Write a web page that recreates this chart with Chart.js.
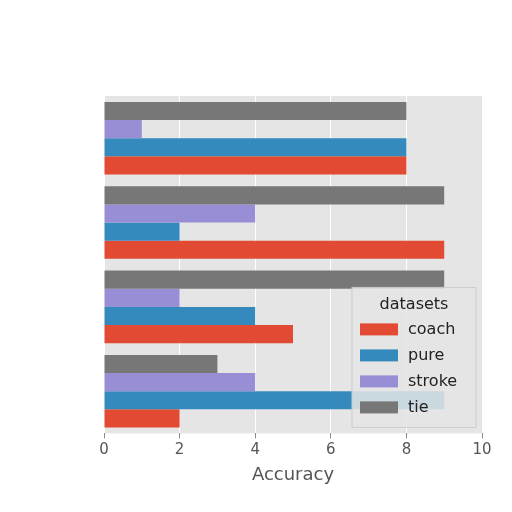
<!DOCTYPE html>
<html><head><meta charset="utf-8">
<script src="https://cdn.jsdelivr.net/npm/chart.js"></script>
<style>html,body{margin:0;background:#fff}#w{width:512px;height:512px}</style>
</head><body><div id="w"><canvas id="c"></canvas></div>
<script>
const categories = ['g3','g2','g1','g0'];
const seriesNames = ['coach','pure','stroke','tie'];
const coach = [8,9,5,2];
const pure = [8,2,4,9];
const stroke = [1,4,2,4];
const tie = [8,9,9,3];
const xTicks = [0,2,4,6,8,10];
const colors = ['#E24A33','#348ABD','#988ED5','#777777'];
const values = [coach,pure,stroke,tie];
const order = [3,2,1,0];

const bgPlugin = {
  id:'bg',
  beforeDraw(ch){const a=ch.chartArea,c=ch.ctx;c.save();c.fillStyle='#E5E5E5';c.fillRect(a.left,a.top,a.right-a.left,a.bottom-a.top);c.restore();}
};
const legendPlugin = {
  id:'lg',
  afterDraw(ch){
    const c=ch.ctx,a=ch.chartArea;
    const w=124,h=140,x=a.right-w-6,y=a.bottom-h-6;
    c.save();
    c.fillStyle='rgba(229,229,229,0.85)';c.strokeStyle='#ccc';
    c.fillRect(x,y,w,h);c.strokeRect(x,y,w,h);
    c.fillStyle='#222';c.font='16px "DejaVu Sans"';c.textBaseline='middle';c.textAlign='center';
    c.fillText('datasets',x+w/2,y+17);
    c.textAlign='left';
    seriesNames.forEach((n,i)=>{
      const yy=y+42+i*26;
      c.fillStyle=colors[i];c.fillRect(x+8,yy-6,38,12);
      c.fillStyle='#222';c.fillText(n,x+56,yy);
    });
    c.restore();
  }
};
new Chart(document.getElementById('c'),{
  type:'bar',
  data:{labels:categories,datasets:order.map(i=>({label:seriesNames[i],data:values[i],backgroundColor:colors[i]}))},
  options:{
    indexAxis:'y',responsive:true,maintainAspectRatio:false,animation:false,
    layout:{padding:{left:96,top:96,right:30,bottom:22}},
    datasets:{bar:{barPercentage:1,categoryPercentage:0.86}},
    plugins:{legend:{display:false},tooltip:{enabled:false}},
    scales:{
      x:{min:0,max:10,afterBuildTicks(s){s.ticks=xTicks.map(v=>({value:v}));},
        grid:{color:'#fff',lineWidth:1,drawTicks:true,tickColor:'#888',tickLength:5},border:{display:false},
        ticks:{color:'#555',font:{size:15,family:'DejaVu Sans'}},
        title:{display:true,text:'Accuracy',color:'#555',font:{size:18,family:'DejaVu Sans'},padding:{top:2}}},
      y:{ticks:{display:false},grid:{display:false},border:{display:false}}
    }
  },
  plugins:[bgPlugin,legendPlugin]
});
</script></body></html>
